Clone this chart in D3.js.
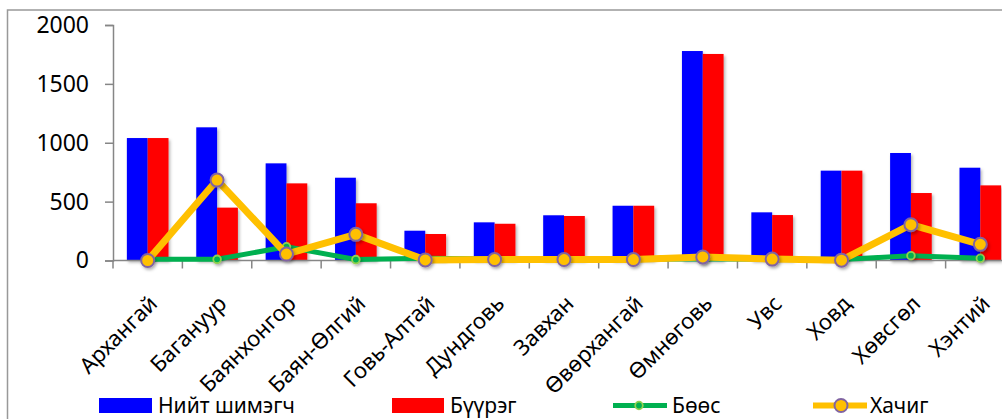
<!DOCTYPE html>
<html><head><meta charset="utf-8">
<script src="https://cdn.jsdelivr.net/npm/d3@7"></script>
<style>html,body{margin:0;padding:0;background:#fff;overflow:hidden}</style>
</head><body>
<svg id="c" width="1002" height="419"></svg>
<script>
const categories = ["Архангай","Багануур","Баянхонгор","Баян-Өлгий","Говь-Алтай","Дундговь","Завхан","Өвөрхангай","Өмнөговь","Увс","Ховд","Хөвсгөл","Хэнтий"];
const seriesNames = ["Нийт шимэгч","Бүүрэг","Бөөс","Хачиг"];
const totalVals = [1040,1131,825,703,253,324,384,465,1779,409,763,913,788];
const buuregVals = [1040,449,655,486,225,312,378,465,1754,386,763,573,638];
const boosVals = [10,10,117,8,20,12,12,12,12,12,8,41,19];
const hachigVals = [0,683,55,222,5,8,8,8,30,12,3,304,137];
const yTicks = [0,500,1000,1500,2000];

const FONT = "'Noto Sans', 'DejaVu Sans', sans-serif";
const svg = d3.select("#c");
svg.append("rect").attr("width",1002).attr("height",419).attr("fill","#fff");

const defs = svg.append("defs");
const f = defs.append("filter").attr("id","sh").attr("x","-30%").attr("y","-30%").attr("width","160%").attr("height","160%");
f.append("feDropShadow").attr("dx",1.5).attr("dy",2).attr("stdDeviation",1.5).attr("flood-color","#000").attr("flood-opacity",0.3);

// outer border
svg.append("rect").attr("x",7.5).attr("y",10).attr("width",1100).attr("height",500)
  .attr("fill","none").attr("stroke","#999").attr("stroke-width",1.5);

const x = d3.scaleBand().domain(categories).range([113,1015]).paddingInner(0.4).paddingOuter(0.2);
const y = d3.scaleLinear().domain([0,2000]).range([260.5,25]);
const xs = d3.scaleBand().domain([0,1]).range([0,x.bandwidth()]);
const cx = d => x(d) + x.bandwidth()/2;

// bars
const barSeries = [{vals: totalVals, color:"#0000ff"},{vals: buuregVals, color:"#ff0000"}];
barSeries.forEach((s,si)=>{
  svg.append("g").attr("filter","url(#sh)").selectAll("rect").data(categories).join("rect")
    .attr("x", d=>x(d)+xs(si)).attr("width", xs.bandwidth())
    .attr("y", (d,i)=>y(s.vals[i])).attr("height",(d,i)=>y(0)-y(s.vals[i]))
    .attr("fill", s.color);
});

// axes
const yAxis = d3.axisLeft(y).tickValues(yTicks).tickSize(8).tickPadding(16).tickFormat(d3.format("d"));
const gy = svg.append("g").attr("transform","translate(113,0)").call(yAxis);
gy.select(".domain").attr("stroke","#868686").attr("stroke-width",1.5);
gy.selectAll(".tick line").attr("stroke","#868686").attr("stroke-width",1.5);
gy.selectAll(".tick text").attr("font-family",FONT).attr("font-size",23).attr("fill","#000");

// x axis line and tick marks at category boundaries
const step = x.step();
const bounds = categories.map(d => x(d) - step*0.2).concat([x(categories[categories.length-1]) - step*0.2 + step]);
svg.append("line").attr("x1",113).attr("x2",1015).attr("y1",y(0)).attr("y2",y(0)).attr("stroke","#868686").attr("stroke-width",1.5);
svg.append("g").selectAll("line").data(bounds).join("line")
  .attr("x1",d=>d).attr("x2",d=>d).attr("y1",y(0)).attr("y2",y(0)+8).attr("stroke","#868686").attr("stroke-width",1.5);

// category labels
svg.append("g").selectAll("text").data(categories).join("text")
  .attr("transform", d=>`translate(${cx(d)+11},${305}) rotate(-45)`)
  .attr("text-anchor","end").attr("font-family",FONT).attr("font-size",22).attr("fill","#000")
  .text(d=>d);

// lines
const line = vals => d3.line().x((d,i)=>cx(categories[i])).y(d=>y(d))(vals);
svg.append("path").attr("d", line(boosVals)).attr("fill","none").attr("stroke","#00b050").attr("stroke-width",5).attr("stroke-linejoin","round");
svg.append("g").attr("filter","url(#sh)").selectAll("circle").data(boosVals).join("circle")
  .attr("cx",(d,i)=>cx(categories[i])).attr("cy",d=>y(d)).attr("r",3.8)
  .attr("fill","#00b050").attr("stroke","#92d050").attr("stroke-width",1.8);

svg.append("path").attr("d", line(hachigVals)).attr("fill","none").attr("stroke","#ffc000").attr("stroke-width",7).attr("stroke-linejoin","round");
svg.append("g").attr("filter","url(#sh)").selectAll("circle").data(hachigVals).join("circle")
  .attr("cx",(d,i)=>cx(categories[i])).attr("cy",d=>y(d)).attr("r",6.5)
  .attr("fill","#ffc000").attr("stroke","#8064a2").attr("stroke-width",2);

// legend
const lg = svg.append("g").attr("font-family",FONT).attr("font-size",21).attr("fill","#000");
const ly = 405.5;
lg.append("rect").attr("x",99).attr("y",ly-7.5).attr("width",53).attr("height",15).attr("fill","#0000ff");
lg.append("text").attr("x",158).attr("y",ly).attr("dy","0.36em").text(seriesNames[0]);
lg.append("rect").attr("x",392).attr("y",ly-7.5).attr("width",52).attr("height",15).attr("fill","#ff0000");
lg.append("text").attr("x",450).attr("y",ly).attr("dy","0.36em").text(seriesNames[1]);
lg.append("line").attr("x1",613).attr("x2",667).attr("y1",ly).attr("y2",ly).attr("stroke","#00b050").attr("stroke-width",5);
lg.append("circle").attr("cx",639).attr("cy",ly).attr("r",3.8).attr("fill","#00b050").attr("stroke","#92d050").attr("stroke-width",1.8);
lg.append("text").attr("x",672).attr("y",ly).attr("dy","0.36em").text(seriesNames[2]);
lg.append("line").attr("x1",813).attr("x2",867).attr("y1",ly).attr("y2",ly).attr("stroke","#ffc000").attr("stroke-width",6);
lg.append("circle").attr("cx",841).attr("cy",ly).attr("r",6.5).attr("fill","#ffc000").attr("stroke","#8064a2").attr("stroke-width",2);
lg.append("text").attr("x",870).attr("y",ly).attr("dy","0.36em").text(seriesNames[3]);
</script>
</body></html>
